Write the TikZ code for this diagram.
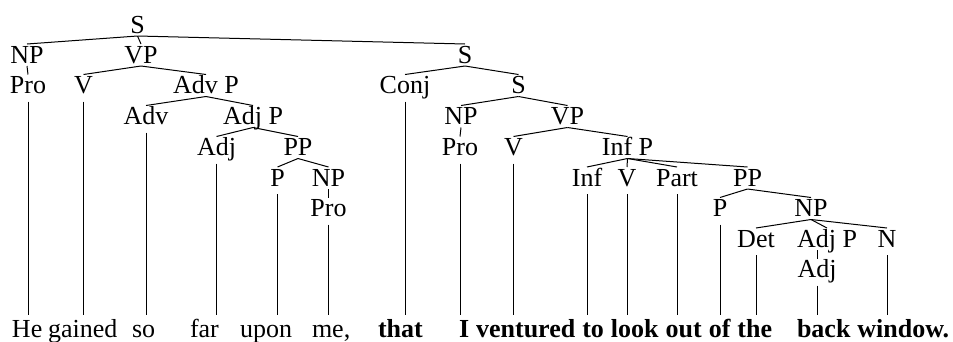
\documentclass[tikz,border=0pt]{standalone}
\usepackage{fontspec}
\setmainfont{Liberation Serif}
\newfontfamily\treefont{Liberation Serif}
\begin{document}
\begin{tikzpicture}[x=1pt,y=-1pt,
  lab/.style={inner sep=0pt,outer sep=0pt,text height=19pt,text depth=3pt,anchor=base,font=\treefont\fontsize{26}{30}\selectfont},
  word/.style={inner sep=0pt,outer sep=0pt,text height=22pt,anchor=base west,font=\treefont\fontsize{26}{30}\selectfont},
  bword/.style={word,font=\treefont\fontsize{26}{30}\selectfont\bfseries},
  edge/.style={line width=1pt},
]
\useasboundingbox (0,0) rectangle (953,341);
% rows
\def\ra{33}\def\rb{63}\def\rc{93.5}\def\rd{124.5}\def\re{155.5}\def\rf{186}\def\rg{216.5}\def\rh{247}\def\ri{277.5}
% labels
\node[lab] (s0) at (137.5,\ra) {S};
\node[lab] (np1) at (27,\rb) {NP};
\node[lab] (vp1) at (141,\rb) {VP};
\node[lab] (s1) at (465,\rb) {S};
\node[lab] (pro1) at (28,\rc) {Pro};
\node[lab] (v1) at (83.5,\rc) {V};
\node[lab] (advp) at (206,\rc) {Adv P};
\node[lab] (conj) at (405,\rc) {Conj};
\node[lab] (s2) at (518.5,\rc) {S};
\node[lab] (adv) at (146,\rd) {Adv};
\node[lab] (adjp1) at (253,\rd) {Adj P};
\node[lab] (np2) at (461,\rd) {NP};
\node[lab] (vp2) at (567.5,\rd) {VP};
\node[lab] (adj1) at (216.5,\re) {Adj};
\node[lab] (pp1) at (298,\re) {PP};
\node[lab] (pro2) at (460,\re) {Pro};
\node[lab] (v2) at (513.5,\re) {V};
\node[lab] (infp) at (627.5,\re) {Inf P};
\node[lab] (p1) at (277.5,\rf) {P};
\node[lab] (np3) at (328.5,\rf) {NP};
\node[lab] (inf) at (587,\rf) {Inf};
\node[lab] (v3) at (627,\rf) {V};
\node[lab] (part) at (677,\rf) {Part};
\node[lab] (pp2) at (747.5,\rf) {PP};
\node[lab] (pro3) at (328.5,\rg) {Pro};
\node[lab] (p2) at (720,\rg) {P};
\node[lab] (np4) at (811,\rg) {NP};
\node[lab] (det) at (756,\rh) {Det};
\node[lab] (adjp2) at (827,\rh) {Adj P};
\node[lab] (n) at (887,\rh) {N};
\node[lab] (adj2) at (817,\ri) {Adj};
% words
\node[word] (wHe) at (12,337) {He};
\node[word] (wgained) at (48,337) {gained};
\node[word] (wso) at (132,337) {so};
\node[word] (wfar) at (190,337) {far};
\node[word] (wupon) at (240,337) {upon};
\node[word] (wme) at (312,337) {me,};
\node[bword] (wthat) at (378,337) {that};
\node[bword] (wI) at (459,337) {I};
\node[bword] (wventured) at ([xshift=7pt]wI.base east) {ventured};
\node[bword] (wto) at ([xshift=7pt]wventured.base east) {to};
\node[bword] (wlook) at ([xshift=7pt]wto.base east) {look};
\node[bword] (wout) at ([xshift=7pt]wlook.base east) {out};
\node[bword] (wof) at ([xshift=7pt]wout.base east) {of};
\node[bword] (wthe) at ([xshift=7pt]wof.base east) {the};
\node[bword] (wback) at (797,337) {back};
\node[bword] (wwindow) at ([xshift=7pt]wback.base east) {window.};
% tree edges
\draw[edge] (s0.south) -- (np1.north);
\draw[edge] (s0.south) -- (vp1.north);
\draw[edge] (s0.south) -- (s1.north);
\draw[edge] (np1.south) -- (pro1.north);
\draw[edge] (vp1.south) -- (v1.north);
\draw[edge] (vp1.south) -- (advp.north);
\draw[edge] (advp.south) -- (adv.north);
\draw[edge] (advp.south) -- (adjp1.north);
\draw[edge] (adjp1.south) -- (adj1.north);
\draw[edge] (adjp1.south) -- (pp1.north);
\draw[edge] (pp1.south) -- (p1.north);
\draw[edge] (pp1.south) -- (np3.north);
\draw[edge] (np3.south) -- (pro3.north);
\draw[edge] (s1.south) -- (conj.north);
\draw[edge] (s1.south) -- (s2.north);
\draw[edge] (s2.south) -- (np2.north);
\draw[edge] (s2.south) -- (vp2.north);
\draw[edge] (np2.south) -- (pro2.north);
\draw[edge] (vp2.south) -- (v2.north);
\draw[edge] (vp2.south) -- (infp.north);
\draw[edge] (infp.south) -- (inf.north);
\draw[edge] (infp.south) -- (v3.north);
\draw[edge] (infp.south) -- (part.north);
\draw[edge] (infp.south) -- (pp2.north);
\draw[edge] (pp2.south) -- (p2.north);
\draw[edge] (pp2.south) -- (np4.north);
\draw[edge] (np4.south) -- (det.north);
\draw[edge] (np4.south) -- (adjp2.north);
\draw[edge] (np4.south) -- (n.north);
\draw[edge] (adjp2.south -| adj2.north) -- (adj2.north);
% leaf lines
\foreach \l/\w in {pro1/wHe, v1/wgained, adv/wso, adj1/wfar, p1/wupon, pro3/wme, conj/wthat, pro2/wI, v2/wventured, inf/wto, v3/wlook, part/wout, p2/wof, det/wthe, adj2/wback, n/wwindow}
  \draw[edge] ([yshift=-5pt]\l.south) -- (\l.south |- \w.north);
\end{tikzpicture}
\end{document}
